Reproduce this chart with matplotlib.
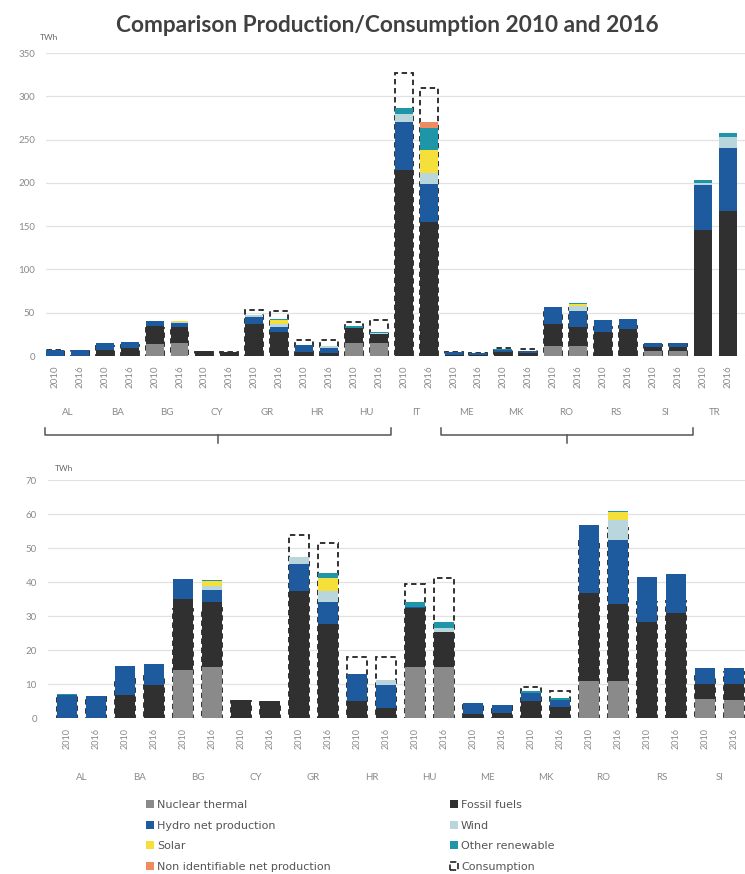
import numpy as np
import matplotlib.pyplot as plt
from matplotlib.patches import Patch
from matplotlib.transforms import blended_transform_factory

plt.rcParams['font.family'] = ['Lato', 'DejaVu Sans']

# countries of the top chart, two bars each (2010, 2016)
countries = ['AL', 'BA', 'BG', 'CY', 'GR', 'HR', 'HU', 'IT', 'ME', 'MK', 'RO', 'RS', 'SI', 'TR']
years = ['2010', '2016']
# the lower chart leaves out the two big producers
zoom_countries = ['AL', 'BA', 'BG', 'CY', 'GR', 'HR', 'HU', 'ME', 'MK', 'RO', 'RS', 'SI']

# TWh, order AL10, AL16, BA10, BA16, ...
nuclear = [0, 0, 0, 0, 14.1, 15.0, 0, 0, 0, 0, 0, 0, 15.0, 15.0, 0, 0,
           0, 0, 0, 0, 11.0, 11.0, 0, 0, 5.6, 5.4, 0, 0]
fossil = [0, 0, 6.8, 9.7, 20.9, 19.0, 5.3, 4.9, 37.4, 27.7, 4.9, 2.9, 17.5, 10.2, 215, 155,
          1.3, 1.4, 5.0, 3.2, 25.7, 22.5, 28.3, 30.8, 4.5, 4.6, 145, 168]
hydro = [6.8, 6.5, 8.4, 6.3, 5.8, 3.6, 0, 0, 7.8, 6.3, 8.1, 6.8, 0.2, 0.2, 55, 44,
         3.1, 2.3, 2.4, 2.2, 20.1, 19.0, 13.3, 11.7, 4.6, 4.6, 52, 72]
wind = [0, 0, 0, 0, 0, 1.3, 0, 0, 2.1, 3.4, 0, 1.5, 0, 1.0, 9, 12,
        0, 0, 0, 0, 0, 5.7, 0, 0, 0, 0, 3, 13]
solar = [0, 0, 0, 0, 0, 1.4, 0, 0, 0, 3.9, 0, 0, 0, 0, 1, 27,
         0, 0, 0, 0, 0, 2.3, 0, 0, 0, 0, 0, 0]
other_ren = [0.2, 0.1, 0, 0, 0, 0.4, 0, 0, 0, 1.4, 0, 0, 1.5, 1.9, 6, 25,
             0, 0, 0.5, 0.6, 0, 0.4, 0, 0, 0, 0.2, 3, 5]
non_ident = [0, 0, 0, 0, 0, 0, 0, 0, 0, 0, 0, 0, 0, 0, 0, 7,
             0, 0, 0, 0, 0, 0, 0, 0, 0, 0, 0, 0]
consumption = [6.5, 6.3, 11.5, 12.5, 32.0, 32.5, 5.0, 4.6, 53.7, 51.5, 18.0, 18.0, 39.5, 41.3, 327, 309,
               4.2, 3.5, 9.0, 7.8, 52.0, 55.8, 34.0, 34.5, 12.5, 13.5, np.nan, np.nan]

series = [
    ('Nuclear thermal', nuclear, '#8a8a8a'),
    ('Fossil fuels', fossil, '#303030'),
    ('Hydro net production', hydro, '#1d5a9e'),
    ('Wind', wind, '#b9d6dc'),
    ('Solar', solar, '#f5df3a'),
    ('Other renewable', other_ren, '#1f95a8'),
    ('Non identifiable net production', non_ident, '#f08a60'),
]

W, H = 745, 874
fig = plt.figure(figsize=(W / 100, H / 100), dpi=100)
fig.text(387 / W, 1 - 25 / H, 'Comparison Production/Consumption 2010 and 2016',
         ha='center', va='center', fontsize=16.3, fontweight='bold', color='#404040')

grey = '#8a8a8a'


def draw_panel(ax, keep, ymax, ystep, width, year_pad, year_fs, country_y):
    idx = [i for i in range(len(fossil)) if countries[i // 2] in keep]
    x = np.arange(len(idx))
    bottom = np.zeros(len(idx))
    for name, vals, col in series:
        v = np.array(vals, dtype=float)[idx]
        ax.bar(x, v, width, bottom=bottom, color=col, zorder=3, linewidth=0)
        bottom += v
    # consumption outline sits behind the bars, so it shows only above them
    cons = np.array(consumption)[idx]
    ok = ~np.isnan(cons)
    ax.bar(x[ok], cons[ok], width, fill=False, edgecolor='#222222',
           linestyle=(0, (3, 2)), linewidth=1.3, zorder=2)
    ax.set_ylim(0, ymax)
    ax.set_yticks(np.arange(0, ymax + 1, ystep))
    ax.grid(axis='y', color='#e2e2e2', linewidth=0.9, zorder=0)
    ax.set_axisbelow(True)
    for s in ax.spines.values():
        s.set_visible(False)
    ax.tick_params(axis='both', length=0, colors=grey)
    ax.tick_params(axis='y', labelsize=7, pad=8)
    ax.set_xticks(x)
    ax.set_xticklabels([years[i % 2] for i in idx], rotation=90, fontsize=year_fs)
    ax.tick_params(axis='x', pad=year_pad)
    trans = blended_transform_factory(ax.transData, ax.transAxes)
    for k, c in enumerate([c for c in countries if c in keep]):
        ax.text(2 * k + 0.5, country_y, c, transform=trans, ha='center', va='center',
                fontsize=7, color=grey)
    return trans


# top chart: 0 at y=356 px, 350 at y=53 px
ax1 = fig.add_axes([46 / W, 1 - 356 / H, 699 / W, 303 / H])
tr1 = draw_panel(ax1, countries, 350, 50, 0.72, 6.5, 7, -0.188)
ax1.set_xlim(-0.36, 27.7)
fig.text(40 / W, 1 - 38 / H, 'TWh', fontsize=6, color='#666666', va='center')

# braces under the top chart, showing what the lower chart enlarges
for x0, x1 in [(-0.4, 13.5), (15.5, 25.6)]:
    xm = (x0 + x1) / 2
    ax1.plot([x0, x0, x1, x1], [-0.238, -0.261, -0.261, -0.238], transform=tr1,
             color='#555555', lw=1.1, clip_on=False)
    ax1.plot([xm, xm], [-0.261, -0.287], transform=tr1, color='#555555', lw=1.1, clip_on=False)

# lower chart: 0 at y=718 px, 70 at y=480 px
ax2 = fig.add_axes([48 / W, 1 - 718 / H, 697 / W, 238 / H])
draw_panel(ax2, zoom_countries, 70, 10, 0.69, 7, 6.5, -0.252)
ax2.set_xlim(-0.655, 23.38)
fig.text(55 / W, 1 - 468 / H, 'TWh', fontsize=6, color='#666666', va='center')

# legend in two columns
handles = {name: Patch(facecolor=col, edgecolor='none') for name, vals, col in series}
handles['Consumption'] = Patch(facecolor='none', edgecolor='#222222', linestyle='--', linewidth=1.2)
col1 = ['Nuclear thermal', 'Hydro net production', 'Solar', 'Non identifiable net production']
col2 = ['Fossil fuels', 'Wind', 'Other renewable', 'Consumption']
for names, xpos in [(col1, 146), (col2, 450)]:
    leg = fig.legend([handles[n] for n in names], names, loc='upper left',
                     bbox_to_anchor=(xpos / W, 1 - 800 / H), frameon=False,
                     prop={'family': 'DejaVu Sans', 'size': 8},
                     handlelength=0.7, handleheight=0.7, handletextpad=0.3, labelspacing=0.95,
                     borderaxespad=0, borderpad=0)
    for t in leg.get_texts():
        t.set_color('#555555')

fig.savefig('out.png', dpi=100)
